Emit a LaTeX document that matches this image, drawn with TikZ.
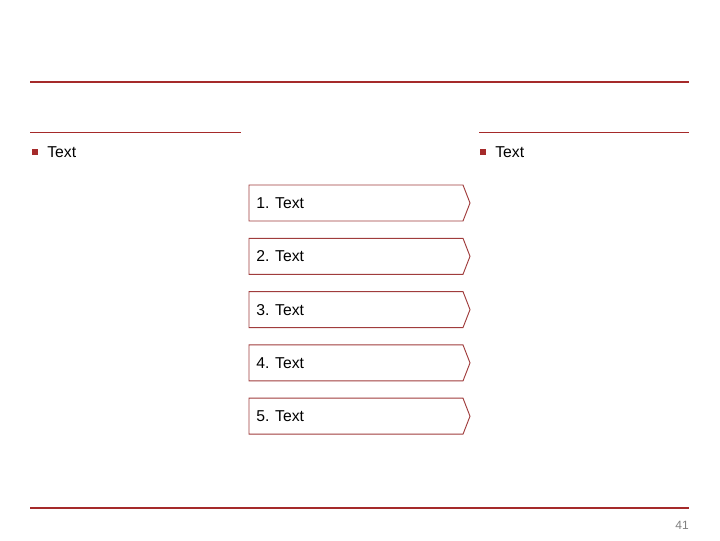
\documentclass[tikz,border=0pt]{standalone}
\usepackage{fontspec}
\setmainfont{Liberation Sans}
\definecolor{brand}{RGB}{165,42,42}
\definecolor{boxline}{RGB}{160,60,60}
\begin{document}
\begin{tikzpicture}[x=0.75pt,y=-0.75pt,
  thickrule/.style={draw=brand,line width=1.6pt},
  thinrule/.style={draw=brand,line width=0.6pt},
  bullet/.style={fill=brand,minimum size=4.5pt,inner sep=0pt},
  bodytext/.style={font=\fontsize{11.8}{13}\selectfont,anchor=west,inner sep=0pt},
  stepbox/.style={draw=boxline,line width=0.7pt,fill=white}]
\useasboundingbox (0,0) rectangle (720,540);
\draw[thickrule] (30,82) -- (689,82);
\draw[thinrule] (30,132) -- (241,132);
\draw[thinrule] (479,132) -- (689,132);
\node[bullet] (b1) at (34.5,152) {};
\node[bodytext] (t1) at (47,152) {Text};
\node[bullet] (b2) at (482.5,152) {};
\node[bodytext] (t2) at (495,152) {Text};
\foreach \i/\ya/\yb in {1/185/221,2/238.3/274.3,3/291.6/327.6,4/344.9/380.9,5/398.2/434.2}{
  \draw[stepbox] (249,\ya) -- (463,\ya) -- (470,{(\ya+\yb)/2}) -- (463,\yb) -- (249,\yb) -- cycle;
  \node[bodytext] (s\i) at (256,{(\ya+\yb)/2}) {\i. Text};
}
\draw[thickrule] (30,508) -- (689,508);
\node[anchor=east,inner sep=0pt,text=gray,font=\fontsize{9}{11}\selectfont] (pg) at (689,525) {41};
\end{tikzpicture}
\end{document}
